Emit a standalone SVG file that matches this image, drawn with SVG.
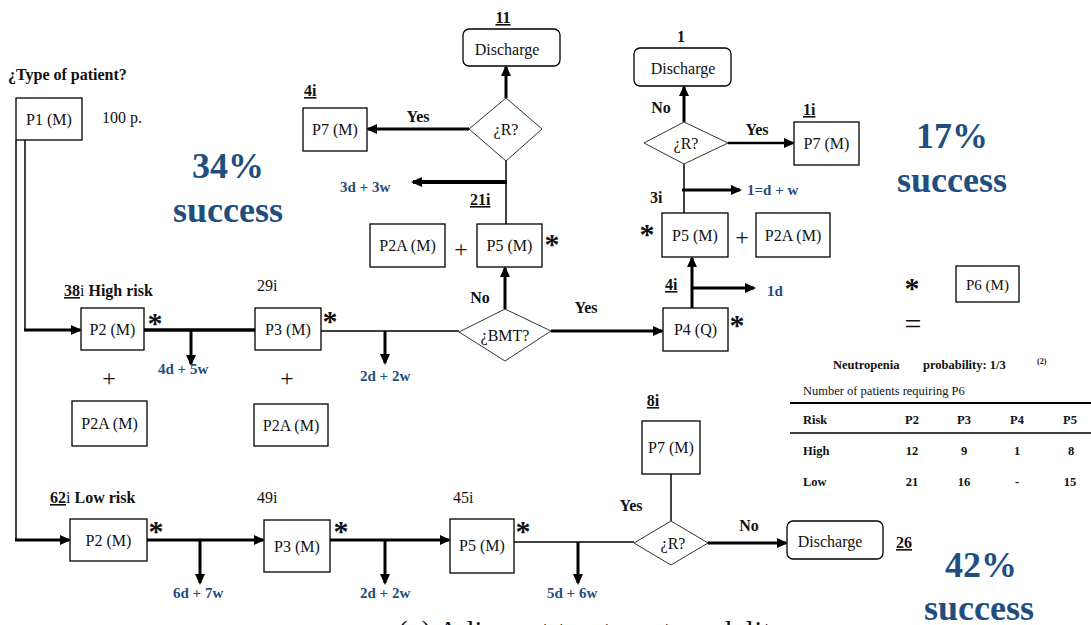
<svg xmlns="http://www.w3.org/2000/svg" width="1091" height="625" viewBox="0 0 1091 625">
<style>
.box{fill:#fff;stroke:#000;stroke-width:1.3}
.dia{fill:#fff;stroke:#333;stroke-width:1}
.t{font-family:"Liberation Serif","Times New Roman",serif;font-size:16px;fill:#111}
.m{text-anchor:middle}
.b{font-weight:bold}
.u{text-decoration:underline}
.blue{fill:#1f4e7f;font-weight:bold;font-size:15px}
.big{fill:#1f4e7f;font-weight:bold;font-size:36px;text-anchor:middle}
.star{font-family:"Liberation Serif",serif;font-size:30px;font-weight:bold;text-anchor:middle;fill:#111}
.plus{font-size:24px;text-anchor:middle}
.tb{font-size:12.5px}
.thick{stroke:#000;stroke-width:3;fill:none}
.thin{stroke:#000;stroke-width:1.5;fill:none}
.arr{marker-end:url(#ah)}
</style>
<defs>
<marker id="ah" markerWidth="11" markerHeight="10" refX="9" refY="5" orient="auto" markerUnits="userSpaceOnUse"><path d="M0,0 L11,5 L0,10 z" fill="#000"/></marker>
</defs>
<rect width="1091" height="625" fill="#fff"/>

<g id="connectors">
<path class="thin" d="M25,140 V331"/>
<path class="thick arr" d="M24,330 H80"/>
<path class="thin" d="M16,140 V541"/>
<path class="thick arr" d="M15,540 H69"/>
<path class="thick" d="M144,330 H255" style="stroke-width:3.5"/>
<path class="thick arr" d="M191,330 V364"/>
<path class="thin" d="M321,331 H459"/>
<path class="thick arr" d="M385,331 V363"/>
<path class="thick arr" d="M505,309 V268"/>
<path class="thick arr" d="M551,331 H662"/>
<path class="thick arr" d="M692,308 V258"/>
<path class="thick arr" d="M692,288 H754"/>
<path class="thin" d="M684,213 V164"/>
<path class="thick arr" d="M682,190 H740"/>
<path class="thick arr" d="M684,122 V87"/>
<path class="thick arr" d="M728,143 H793" style="stroke-width:2.5"/>
<path class="thin" d="M506,224 V161"/>
<path class="thick arr" d="M507,182 H413" style="stroke-width:4"/>
<path class="thick arr" d="M469,129 H368"/>
<path class="thick arr" d="M506,98 V67"/>
<path class="thick arr" d="M147,540 H263"/>
<path class="thick arr" d="M200,540 V583"/>
<path class="thick arr" d="M330,540 H449"/>
<path class="thick arr" d="M385,540 V583"/>
<path class="thin" d="M514,542 H634"/>
<path class="thick arr" d="M578,542 V583"/>
<path class="thick arr" d="M708,543 H786"/>
<path class="thin" d="M671,474 V521"/>
</g>

<text class="t b" x="8" y="80">¿Type of patient?</text>
<g id="n-p1"><rect class="box" x="16" y="98" width="66" height="42"/><text class="t m" x="49" y="125">P1 (M)</text></g>
<text class="t" x="102" y="123">100 p.</text>

<text class="big" x="228" y="178">34%</text>
<text class="big" x="228" y="222">success</text>
<text class="big" x="952" y="148">17%</text>
<text class="big" x="952" y="192">success</text>
<text class="big" x="981" y="577">42%</text>
<text class="big" x="979" y="620">success</text>

<!-- top center -->
<text class="t b m u" x="503" y="23">11</text>
<g id="n-disch-top"><rect class="box" x="463" y="29" width="97" height="37" rx="6"/><text class="t m" x="507" y="55">Discharge</text></g>
<g id="n-r-top"><polygon class="dia" points="469,129 506,98 542,129 506,161"/><text class="t m" x="506" y="135">¿R?</text></g>
<text class="t b u" x="304" y="96">4i</text>
<g id="n-p7-top"><rect class="box" x="303" y="108" width="64" height="43"/><text class="t m" x="335" y="135">P7 (M)</text></g>
<text class="t b m" x="418" y="122">Yes</text>
<text class="t blue" x="340" y="192">3d + 3w</text>
<text class="t b u" x="470" y="205">21i</text>
<g id="n-p2a-top"><rect class="box" x="370" y="224" width="75" height="43"/><text class="t m" x="407.5" y="251">P2A (M)</text></g>
<text class="t plus" x="461" y="257">+</text>
<g id="n-p5-top"><rect class="box" x="477" y="224" width="65" height="43"/><text class="t m" x="509.5" y="251">P5 (M)</text></g>
<text class="star" x="552" y="254">*</text>

<!-- top right -->
<text class="t b m" x="681" y="42">1</text>
<g id="n-disch-right"><rect class="box" x="634" y="48" width="97" height="38" rx="6"/><text class="t m" x="683" y="74">Discharge</text></g>
<text class="t b m" x="661" y="113">No</text>
<g id="n-r-right"><polygon class="dia" points="644,143 684,122 728,143 684,164"/><text class="t m" x="686" y="149">¿R?</text></g>
<text class="t b m" x="757" y="135">Yes</text>
<text class="t b u" x="803" y="115">1i</text>
<g id="n-p7-right"><rect class="box" x="794" y="122" width="65" height="43"/><text class="t m" x="826.5" y="149">P7 (M)</text></g>
<text class="t b" x="650" y="203">3i</text>
<text class="t blue" x="747" y="195">1=d + w</text>
<text class="star" x="647" y="244">*</text>
<g id="n-p5-right"><rect class="box" x="662" y="213" width="66" height="44"/><text class="t m" x="695" y="241">P5 (M)</text></g>
<text class="t plus" x="742" y="245">+</text>
<g id="n-p2a-right"><rect class="box" x="756" y="213" width="74" height="44"/><text class="t m" x="793" y="241">P2A (M)</text></g>
<text class="t b u" x="665" y="290">4i</text>
<text class="t blue" x="767" y="296">1d</text>

<!-- high risk row -->
<text class="t b" x="64" y="296"><tspan class="u">38</tspan><tspan font-weight="normal">i</tspan>  High risk</text>
<g id="n-p2-high"><rect class="box" x="81" y="308" width="63" height="42"/><text class="t m" x="112.5" y="335">P2 (M)</text></g>
<text class="star" x="155" y="333">*</text>
<text class="t blue" x="158" y="374">4d + 5w</text>
<text class="t plus" x="109" y="386">+</text>
<g id="n-p2a-high"><rect class="box" x="72" y="401" width="75" height="45"/><text class="t m" x="109.5" y="429">P2A (M)</text></g>
<text class="t" x="257" y="291">29i</text>
<g id="n-p3-high"><rect class="box" x="255" y="308" width="66" height="42"/><text class="t m" x="288" y="335">P3 (M)</text></g>
<text class="star" x="330" y="331">*</text>
<text class="t plus" x="287" y="386">+</text>
<g id="n-p2a-high2"><rect class="box" x="254" y="404" width="74" height="42"/><text class="t m" x="291" y="431">P2A (M)</text></g>
<text class="t blue" x="360" y="381">2d + 2w</text>
<text class="t b m" x="480" y="303">No</text>
<g id="n-bmt"><polygon class="dia" points="459,332 505,309 551,331 505,361"/><text class="t m" x="505" y="341">¿BMT?</text></g>
<text class="t b m" x="586" y="313">Yes</text>
<g id="n-p4"><rect class="box" x="663" y="308" width="65" height="43"/><text class="t m" x="695.5" y="335">P4 (Q)</text></g>
<text class="star" x="737" y="335">*</text>

<!-- legend -->
<text class="star" x="912" y="298">*</text>
<g id="n-p6"><rect class="box" x="956" y="266" width="63" height="36"/><text class="t m" x="987.5" y="290" style="font-size:15px">P6 (M)</text></g>
<text class="t m" x="913" y="334" style="font-size:30px">=</text>

<!-- table -->
<g id="table">
<text class="t b tb" x="833" y="369">Neutropenia</text>
<text class="t b tb" x="923" y="369">probability: 1/3</text>
<text class="t b" x="1037" y="364" style="font-size:8px">(2)</text>
<text class="t tb" x="803" y="395">Number of patients requiring  P6</text>
<line x1="790" y1="403" x2="1091" y2="403" stroke="#000" stroke-width="2"/>
<text class="t b tb" x="803" y="424">Risk</text>
<text class="t b tb m" x="912" y="424">P2</text>
<text class="t b tb m" x="964" y="424">P3</text>
<text class="t b tb m" x="1017" y="424">P4</text>
<text class="t b tb m" x="1070" y="424">P5</text>
<line x1="790" y1="433" x2="1091" y2="433" stroke="#000" stroke-width="1.5"/>
<text class="t b tb" x="803" y="455">High</text>
<text class="t b tb m" x="912" y="455">12</text>
<text class="t b tb m" x="964" y="455">9</text>
<text class="t b tb m" x="1017" y="455">1</text>
<text class="t b tb m" x="1071" y="455">8</text>
<text class="t b tb" x="803" y="486">Low</text>
<text class="t b tb m" x="912" y="486">21</text>
<text class="t b tb m" x="964" y="486">16</text>
<text class="t b tb m" x="1017" y="486">-</text>
<text class="t b tb m" x="1070" y="486">15</text>
</g>

<!-- low risk row -->
<text class="t b" x="50" y="503"><tspan class="u">62</tspan><tspan font-weight="normal">i</tspan>   Low risk</text>
<g id="n-p2-low"><rect class="box" x="70" y="519" width="77" height="42"/><text class="t m" x="108.5" y="546">P2 (M)</text></g>
<text class="star" x="156" y="541">*</text>
<text class="t blue" x="173" y="598">6d + 7w</text>
<text class="t" x="257" y="503">49i</text>
<g id="n-p3-low"><rect class="box" x="264" y="520" width="66" height="52"/><text class="t m" x="297" y="552">P3 (M)</text></g>
<text class="star" x="341" y="541">*</text>
<text class="t blue" x="360" y="598">2d + 2w</text>
<text class="t" x="453" y="503">45i</text>
<g id="n-p5-low"><rect class="box" x="450" y="519" width="64" height="54"/><text class="t m" x="482" y="551">P5 (M)</text></g>
<text class="star" x="523" y="541">*</text>
<text class="t blue" x="547" y="598">5d + 6w</text>
<text class="t b m u" x="653" y="406">8i</text>
<g id="n-p7-low"><rect class="box" x="642" y="421" width="58" height="53"/><text class="t m" x="671" y="453">P7 (M)</text></g>
<text class="t b m" x="631" y="511">Yes</text>
<g id="n-r-low"><polygon class="dia" points="634,543 671,521 708,543 671,565"/><text class="t m" x="673" y="549">¿R?</text></g>
<text class="t b m" x="749" y="531">No</text>
<g id="n-disch-low"><rect class="box" x="787" y="521" width="96" height="38" rx="6"/><text class="t m" x="830" y="547">Discharge</text></g>
<text class="t b m u" x="904" y="548">26</text>

<text class="t" x="398" y="641" style="font-size:29px;letter-spacing:0.5px">(a) Adjuvant treatment modality</text>
</svg>
